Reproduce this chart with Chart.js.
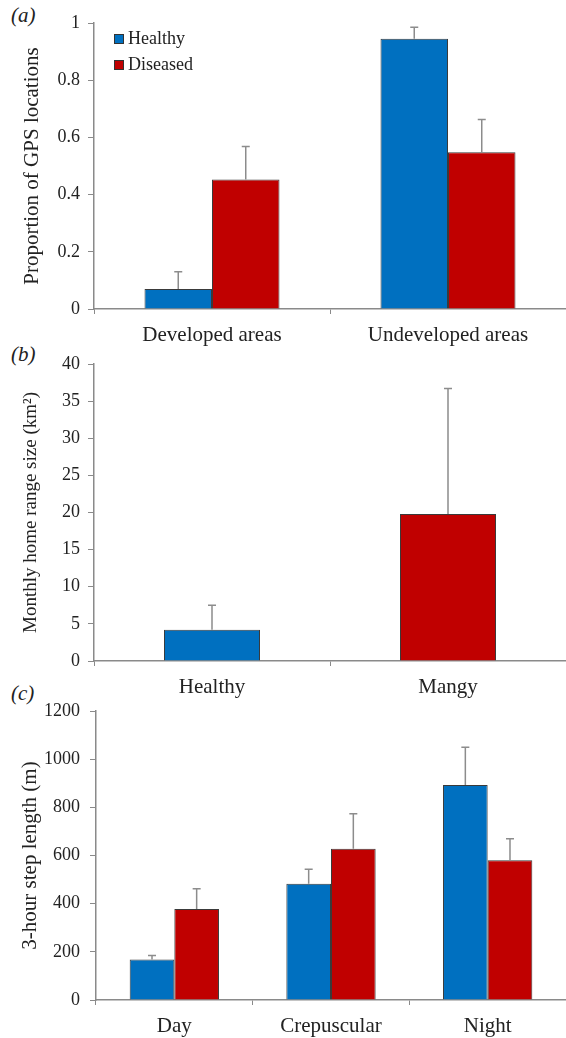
<!DOCTYPE html>
<html lang="en">
<head>
  <meta charset="UTF-8" />
  <title>Healthy vs diseased: space use and movement</title>
  <script src="https://cdn.jsdelivr.net/npm/chart.js"></script>
  <style>
    body {
      margin: 0;
      background: #fff;
      width: 566px;
      height: 1038px;
      position: relative;
      overflow: hidden;
      font-family: "Liberation Serif", serif;
    }
    canvas {
      position: absolute;
      left: 0;
    }
    .tag {
      position: absolute;
      left: 11px;
      font-style: italic;
      font-size: 21px;
      color: #222;
    }
  </style>
</head>
<body>

  <div class="tag" style="top: 3px;">(a)</div>
  <div class="tag" style="top: 342px;">(b)</div>
  <div class="tag" style="top: 681px;">(c)</div>

  <canvas id="chartA" width="566" height="350" style="top: 0px;"></canvas>
  <canvas id="chartB" width="566" height="360" style="top: 340px;"></canvas>
  <canvas id="chartC" width="566" height="348" style="top: 690px;"></canvas>

  <script>
    // panel (a) - proportion of GPS locations
    const areaLabels = ["Developed areas", "Undeveloped areas"];
    const areaHealthy = [0.07, 0.945];
    const areaHealthyErr = [0.13, 0.985];
    const areaDiseased = [0.453, 0.548];
    const areaDiseasedErr = [0.568, 0.663];

    // panel (b) - monthly home range size
    const rangeLabels = ["Healthy", "Mangy"];
    const rangeValues = [4.2, 19.8];
    const rangeErr = [7.5, 36.7];

    // panel (c) - 3-hour step length
    const timeLabels = ["Day", "Crepuscular", "Night"];
    const stepHealthy = [168, 483, 893];
    const stepHealthyErr = [185, 543, 1050];
    const stepDiseased = [378, 628, 580];
    const stepDiseasedErr = [462, 773, 670];

    const BLUE = "#0070c0";
    const RED = "#c00000";
    const AXIS = "#8a8a8a";
    const TEXT = "#222";
    const SERIF = '"Liberation Serif", serif';

    // draws the upper error whisker for every bar, value given by dataset.errTop
    const errorBars = {
      id: "errorBars",
      afterDatasetsDraw(chart) {
        const ctx = chart.ctx;
        const yScale = chart.scales.y;
        ctx.save();
        ctx.strokeStyle = "#8c8c8c";
        ctx.lineWidth = 1.5;
        chart.data.datasets.forEach((ds, i) => {
          const meta = chart.getDatasetMeta(i);
          meta.data.forEach((bar, j) => {
            const top = yScale.getPixelForValue(ds.errTop[j]);
            ctx.beginPath();
            ctx.moveTo(bar.x, bar.y);
            ctx.lineTo(bar.x, top);
            ctx.moveTo(bar.x - 4, top);
            ctx.lineTo(bar.x + 4, top);
            ctx.stroke();
          });
        });
        ctx.restore();
      }
    };

    // small legend inside the plot, top-left
    const innerLegend = {
      id: "innerLegend",
      afterDraw(chart) {
        const ctx = chart.ctx;
        const x = chart.chartArea.left + 20;
        let y = chart.chartArea.top + 16;
        ctx.save();
        ctx.font = "18px " + SERIF;
        ctx.textBaseline = "middle";
        chart.data.datasets.forEach(ds => {
          ctx.fillStyle = ds.backgroundColor;
          ctx.fillRect(x, y - 5, 10, 10);
          ctx.strokeStyle = "#333";
          ctx.lineWidth = 1;
          ctx.strokeRect(x + 0.5, y - 4.5, 9, 9);
          ctx.fillStyle = TEXT;
          ctx.fillText(ds.label, x + 14, y);
          y += 26;
        });
        ctx.restore();
      }
    };

    function makeOptions(cfg) {
      return {
        responsive: false,
        animation: false,
        layout: { padding: { top: cfg.top, left: 0, right: 0, bottom: 0 } },
        plugins: {
          legend: { display: false },
          tooltip: { enabled: false }
        },
        datasets: {
          bar: {
            categoryPercentage: cfg.groupPct,
            barPercentage: 1,
            borderColor: "#3a3a3a",
            borderWidth: 1
          }
        },
        scales: {
          x: {
            offset: true,
            grid: {
              offset: true,
              drawOnChartArea: false,
              color: AXIS,
              tickLength: 5
            },
            border: { color: AXIS, width: 1.5 },
            ticks: {
              color: TEXT,
              padding: 9,
              font: { family: SERIF, size: 21 }
            },
            afterFit(scale) { scale.height = cfg.xHeight; }
          },
          y: {
            min: cfg.min,
            max: cfg.max,
            grid: {
              drawOnChartArea: false,
              color: AXIS,
              tickLength: 6
            },
            border: { color: AXIS, width: 1.5 },
            ticks: {
              stepSize: cfg.step,
              color: TEXT,
              padding: cfg.tickPad,
              font: { family: SERIF, size: 18 },
              callback: v => String(Math.round(v * 10) / 10)
            },
            title: {
              display: true,
              text: cfg.title,
              color: TEXT,
              font: { family: SERIF, size: cfg.titleSize },
              padding: { top: cfg.titlePad, bottom: 0 }
            },
            afterFit(scale) { scale.width = cfg.yWidth; }
          }
        }
      };
    }

    function drawAll() {
      new Chart(document.getElementById("chartA"), {
        type: "bar",
        data: {
          labels: areaLabels,
          datasets: [
            { label: "Healthy", data: areaHealthy, errTop: areaHealthyErr, backgroundColor: BLUE },
            { label: "Diseased", data: areaDiseased, errTop: areaDiseasedErr, backgroundColor: RED }
          ]
        },
        options: makeOptions({
          top: 23, min: 0, max: 1, step: 0.2, groupPct: 0.572,
          xHeight: 41, yWidth: 94, tickPad: 8, titlePad: 20, titleSize: 21,
          title: "Proportion of GPS locations"
        }),
        plugins: [errorBars, innerLegend]
      });

      new Chart(document.getElementById("chartB"), {
        type: "bar",
        data: {
          labels: rangeLabels,
          datasets: [
            { label: "Home range", data: rangeValues, errTop: rangeErr, backgroundColor: [BLUE, RED] }
          ]
        },
        options: makeOptions({
          top: 24, min: 0, max: 40, step: 5, groupPct: 0.407,
          xHeight: 39, yWidth: 94, tickPad: 8, titlePad: 20, titleSize: 19,
          title: "Monthly home range size (km²)"
        }),
        plugins: [errorBars]
      });

      new Chart(document.getElementById("chartC"), {
        type: "bar",
        data: {
          labels: timeLabels,
          datasets: [
            { label: "Healthy", data: stepHealthy, errTop: stepHealthyErr, backgroundColor: BLUE },
            { label: "Diseased", data: stepDiseased, errTop: stepDiseasedErr, backgroundColor: RED }
          ]
        },
        options: makeOptions({
          top: 21, min: 0, max: 1200, step: 200, groupPct: 0.57,
          xHeight: 38, yWidth: 96, tickPad: 10, titlePad: 18, titleSize: 21,
          title: "3-hour step length (m)"
        }),
        plugins: [errorBars]
      });
    }

    // make sure the serif face is ready before the canvases use it
    Promise.all([
      document.fonts.load('18px "Liberation Serif"'),
      document.fonts.load('italic 21px "Liberation Serif"')
    ]).then(drawAll, drawAll);
  </script>

</body>
</html>
